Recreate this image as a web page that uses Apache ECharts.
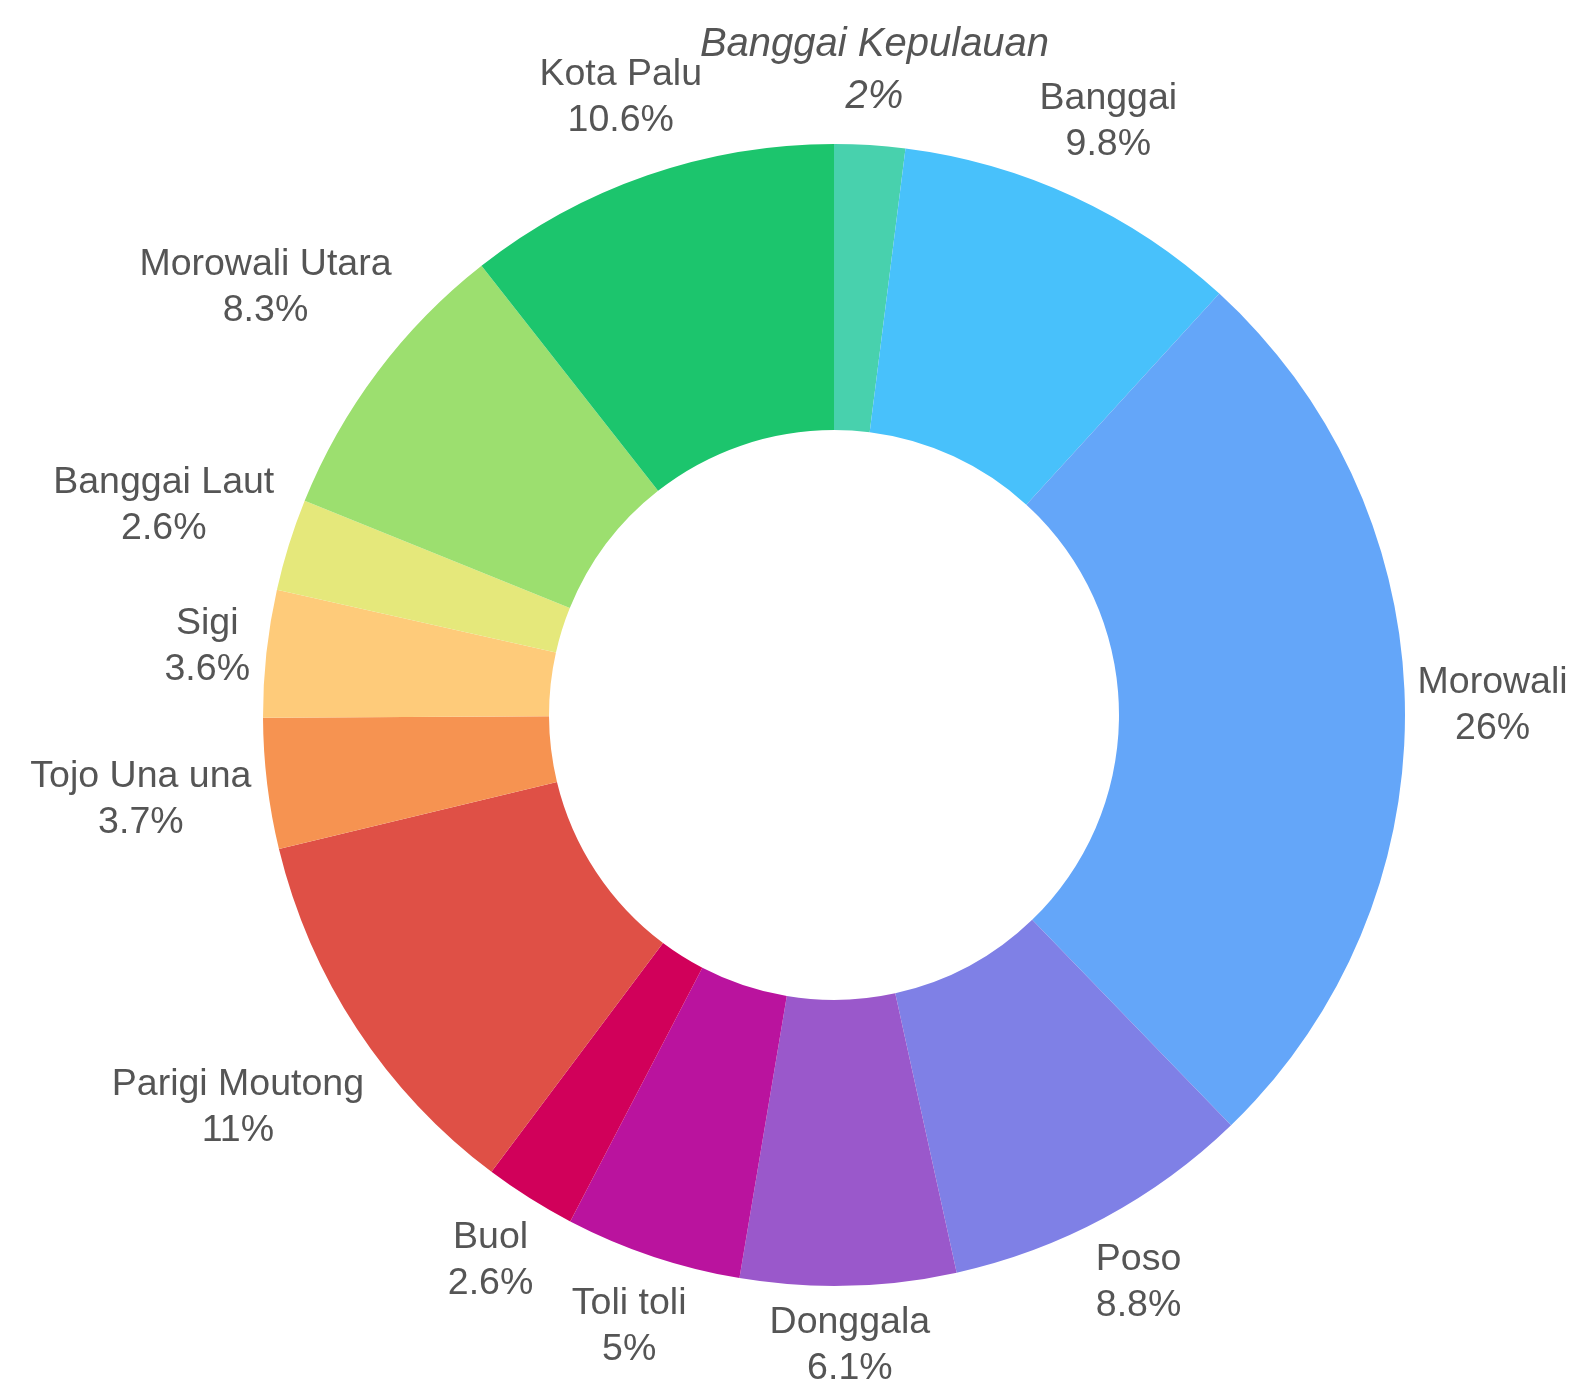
<!DOCTYPE html>
<html>
<head>
<meta charset="utf-8">
<script src="https://cdn.jsdelivr.net/npm/echarts@6/dist/echarts.min.js"></script>
<style>
  html, body { margin: 0; padding: 0; background: #fff; }
  #chart { width: 1576px; height: 1379px; }
</style>
</head>
<body>
<div id="chart"></div>
<script>
// kabupaten / kota, clockwise from the top
const regions = [
  'Banggai Kepulauan', 'Banggai', 'Morowali', 'Poso', 'Donggala', 'Toli toli', 'Buol',
  'Parigi Moutong', 'Tojo Una una', 'Sigi', 'Banggai Laut', 'Morowali Utara', 'Kota Palu'
];
const shares = [2, 9.8, 26, 8.8, 6.1, 5, 2.6, 11, 3.7, 3.6, 2.6, 8.3, 10.6];
const colors = [
  '#48d1ad', '#48c1fb', '#64a6f9', '#7f80e6', '#9a58cb', '#ba139e', '#d1005a',
  '#df5046', '#f69351', '#fecb7a', '#e5e87b', '#9cdf6f', '#1cc56d'
];

const cx = 834, cy = 715, rOut = 571, rIn = 285;
const fontFamily = '"Liberation Sans", Arial, sans-serif';
const gap = 12; // space between ring and nearest side of a label
// the first label is set in a slightly larger italic
const fontSizes = regions.map((n, i) => i === 0 ? 40 : 37.5);
const lineHeights = regions.map((n, i) => i === 0 ? 52 : 46);

// mid angle of each slice (radians, clockwise from 12 o'clock)
const total = shares.reduce((a, b) => a + b, 0);
let acc = 0;
const midAngles = shares.map(v => {
  const mid = (acc + v / 2) / total * Math.PI * 2;
  acc += v;
  return mid;
});

// label text widths, to push each label out until its box clears the ring
const ctx = document.createElement('canvas').getContext('2d');
const labelWidths = regions.map((name, i) => {
  ctx.font = (i === 0 ? 'italic ' : '') + fontSizes[i] + 'px ' + fontFamily;
  return Math.max(ctx.measureText(name).width, ctx.measureText(shares[i] + '%').width);
});

const chart = echarts.init(document.getElementById('chart'));
chart.setOption({
  animation: false,
  series: [{
    type: 'pie',
    center: [cx, cy],
    radius: [rIn, rOut],
    startAngle: 90,
    clockwise: true,
    silent: true,
    data: regions.map((name, i) => ({
      name: name,
      value: shares[i],
      itemStyle: { color: colors[i] },
      label: {
        fontStyle: i === 0 ? 'italic' : 'normal',
        fontSize: fontSizes[i],
        lineHeight: lineHeights[i]
      }
    })),
    label: {
      show: true,
      position: 'outside',
      formatter: '{b}\n{c}%',
      fontFamily: fontFamily,
      color: '#555555',
      width: 420,
      overflow: 'none',
      align: 'center'
    },
    labelLine: { show: false },
    labelLayout: function (params) {
      const i = params.dataIndex;
      const a = midAngles[i];
      const sx = Math.sin(a), sy = Math.cos(a);
      const hw = labelWidths[i] / 2, hh = lineHeights[i];
      const d = rOut + gap + hw * Math.abs(sx) + hh * Math.abs(sy);
      return {
        x: cx + sx * d,
        y: cy - sy * d,
        align: 'center',
        verticalAlign: 'middle'
      };
    }
  }]
});
</script>
</body>
</html>
